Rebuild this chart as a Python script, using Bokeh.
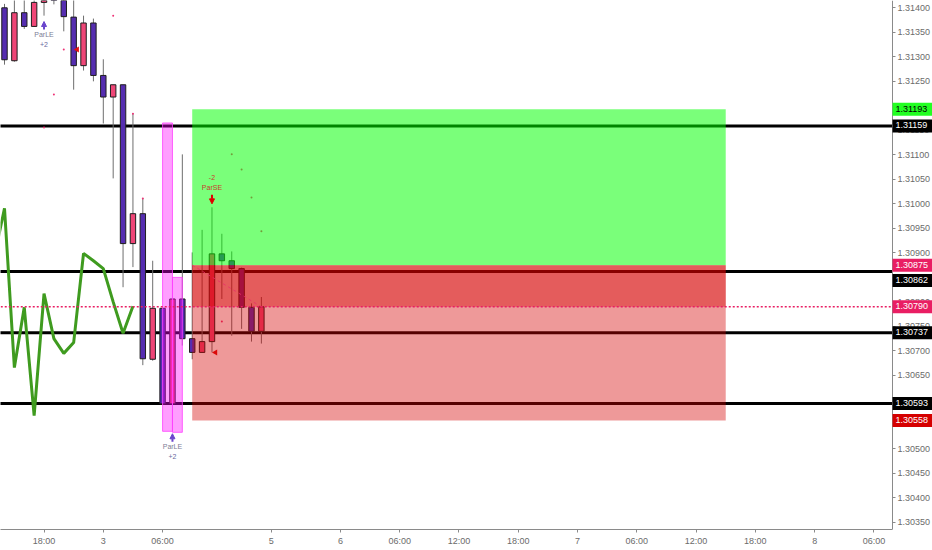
import math
from bokeh.plotting import figure
from bokeh.models import Range1d, FixedTicker, PrintfTickFormatter, Label, ColumnDataSource, NormalHead, Arrow
from bokeh.core.properties import value
from bokeh.embed import file_html
from bokeh.resources import INLINE

# ---------------- data ----------------
bar_idx = list(range(27))
opens = [1.31400, 1.31292, 1.31390, 1.31362, 1.31411, 1.31450, 1.31428, 1.31381, 1.31282,
         1.31369, 1.31262, 1.31218, 1.31243, 1.30919, 1.30980, 1.30683, 1.30787, 1.30592,
         1.30806, 1.30725, 1.30697, 1.30719, 1.30898, 1.30884, 1.30868, 1.30789, 1.30740]
highs = [1.31408, 1.31418, 1.31420, 1.31425, 1.31440, 1.31460, 1.31440, 1.31420, 1.31384,
         1.31378, 1.31295, 1.31243, 1.31243, 1.31185, 1.31012, 1.30884, 1.30787, 1.30806,
         1.31101, 1.30901, 1.30947, 1.30993, 1.30939, 1.30903, 1.30870, 1.30797, 1.30810]
lows = [1.31284, 1.31290, 1.31357, 1.31361, 1.31384, 1.31407, 1.31352, 1.31233, 1.31272,
        1.31250, 1.31164, 1.31052, 1.30830, 1.30871, 1.30671, 1.30680, 1.30590, 1.30590,
        1.30711, 1.30683, 1.30697, 1.30697, 1.30806, 1.30731, 1.30745, 1.30719, 1.30715]
closes = [1.31294, 1.31390, 1.31362, 1.31411, 1.31430, 1.31430, 1.31382, 1.31282, 1.31369,
          1.31262, 1.31218, 1.31243, 1.30919, 1.30980, 1.30684, 1.30787, 1.30592, 1.30806,
          1.30725, 1.30697, 1.30719, 1.30898, 1.30884, 1.30868, 1.30789, 1.30740, 1.30790]

ind_idx = [-1, 0, 1, 2, 3, 4, 5, 6, 7, 8, 9, 10, 11, 12, 13]
ind_vals = [1.30895, 1.30991, 1.30666, 1.30789, 1.30568, 1.30817, 1.30725, 1.30695, 1.30717,
            1.30899, 1.30884, 1.30868, 1.30800, 1.30736, 1.30791]

sar_idx = [4, 5, 6, 11, 13, 14, 22, 23, 24, 25, 26]
sar_vals = [1.31156, 1.31223, 1.31315, 1.31384, 1.31184, 1.31011, 1.30760, 1.31101, 1.31070,
            1.31013, 1.30944]

levels = [1.31159, 1.30862, 1.30737, 1.30593]

pos_start, pos_end = 19, 73
entry_price = 1.30875
target_price = 1.31193
stop_price = 1.30558
last_price = 1.30790

hl_left = [16, 17]
hl_right = [17, 18]
hl_top = [1.31165, 1.30850]
hl_bottom = [1.30536, 1.30534]

sig_idx = [4, 17, 21]
sig_price = [1.31372, 1.30531, 1.31000]
sig_name = ["ParLE", "ParLE", "ParSE"]
sig_qty = ["+2", "+2", "-2"]
sig_long = [True, True, False]

entry_mark_idx = [7, 21]
entry_mark_price = [1.31315, 1.30697]

x_ticks = [4, 10, 16, 27, 34, 40, 46, 52, 58, 64, 70, 76, 82, 88]
x_labels = ["18:00", "3", "06:00", "5", "6", "06:00", "12:00", "18:00", "7", "06:00",
            "12:00", "18:00", "8", "06:00"]
y_ticks = [1.3035, 1.3040, 1.3045, 1.3050, 1.3055, 1.3060, 1.3065, 1.3070, 1.3075, 1.3080,
           1.3085, 1.3090, 1.3095, 1.3100, 1.3105, 1.3110, 1.3115, 1.3120, 1.3125, 1.3130,
           1.3135, 1.3140]

price_labels = [1.31193, 1.31159, 1.30875, 1.30862, 1.30790, 1.30737, 1.30593, 1.30558]

# ---------------- style ----------------
FONT = "Liberation Sans"
UP = "#ef4677"
DOWN = "#552db0"
FW, FH = 932, 529
X0 = -0.405
AX = 89.88                      # where the price scale sits
X1 = X0 + (AX - X0) * FW / 892.0
Y0, Y1 = 1.303357, 1.314149
PX = (Y1 - Y0) / FH

p = figure(frame_width=FW, frame_height=FH,
           x_range=Range1d(X0, X1), y_range=Range1d(Y0, Y1),
           output_backend="svg", toolbar_location=None, y_axis_location="right",
           min_border_left=0, min_border_top=0, min_border_right=0, min_border_bottom=0)
p.background_fill_color = "white"
p.border_fill_color = "white"
p.outline_line_color = None
p.xgrid.visible = False
p.ygrid.visible = False

# horizontal levels (under zones)
xl0 = -2
p.segment(x0=[xl0] * len(levels), x1=[AX] * len(levels), y0=levels, y1=levels,
          line_color="black", line_width=3)

# indicator line
p.line(ind_idx, ind_vals, line_color="#3f9b1f", line_width=3)

# candles
body_top = [max(o, c) for o, c in zip(opens, closes)]
body_bot = [min(o, c) for o, c in zip(opens, closes)]
cols = [UP if c >= o else DOWN for o, c in zip(opens, closes)]
src = ColumnDataSource(dict(x=bar_idx, hi=highs, lo=lows, top=body_top, bot=body_bot, col=cols))
p.segment(x0="x", x1="x", y0="lo", y1="hi", source=src, line_color="#6e6e6e", line_width=1)
p.vbar(x="x", width=0.55, top="top", bottom="bot", fill_color="col", line_color="#1e1e1e",
       line_width=1, source=src)

# SAR dots
p.scatter(sar_idx, sar_vals, marker="circle", size=2, fill_color="#ee3377", line_color=None)

# entry markers (left-pointing)
p.scatter([i + 0.35 for i in entry_mark_idx], entry_mark_price, marker="triangle", angle=math.pi / 2,
          size=6, fill_color="#e01010", line_color=None)

# position zones (over everything)
p.quad(left=[pos_start], right=[pos_end], top=[target_price], bottom=[entry_price],
       fill_color="#00ff00", fill_alpha=0.52, line_color=None)
p.quad(left=[pos_start], right=[pos_end], top=[entry_price], bottom=[stop_price],
       fill_color="#d50000", fill_alpha=0.40, line_color=None)
p.quad(left=[pos_start], right=[pos_end], top=[entry_price], bottom=[last_price],
       fill_color="#d50000", fill_alpha=0.40, line_color=None)

# highlight boxes
p.quad(left=hl_left, right=hl_right, top=hl_top, bottom=hl_bottom,
       fill_color="#ff00ff", fill_alpha=0.38, line_color="#ff40ff", line_alpha=0.8, line_width=1)

# current price line
p.segment(x0=[xl0], x1=[AX], y0=[last_price], y1=[last_price], line_color="#e91e63",
          line_width=1.5, line_dash="2 2")
# entry -> current dashed diagonal
p.segment(x0=[pos_start], x1=[bar_idx[-1]], y0=[entry_price], y1=[last_price],
          line_color="#e8306a", line_width=1, line_dash="3 3", line_alpha=0.8)

# signals
for i, pr, nm, q, lg in zip(sig_idx, sig_price, sig_name, sig_qty, sig_long):
    if lg:
        col = "#6a45cc"
        p.add_layout(Arrow(end=NormalHead(size=5, fill_color=col, line_color=col),
                           x_start=i, y_start=pr - 8 * PX, x_end=i, y_end=pr,
                           line_color=col, line_width=2))
        p.text([i], [pr - 12.5 * PX], text=[nm], text_font=value(FONT), text_font_size="7px",
               text_color="#7d7d95", text_align="center", text_baseline="middle")
        p.text([i], [pr - 22.5 * PX], text=[q], text_font=value(FONT), text_font_size="7px",
               text_color="#6a6aa0", text_align="center", text_baseline="middle")
    else:
        col = "#e00000"
        p.add_layout(Arrow(end=NormalHead(size=5, fill_color=col, line_color=col),
                           x_start=i, y_start=pr + 9 * PX, x_end=i, y_end=pr,
                           line_color=col, line_width=2))
        p.text([i], [pr + 16.5 * PX], text=[nm], text_font=value(FONT), text_font_size="7px",
               text_color="#c83c2c", text_align="center", text_baseline="middle")
        p.text([i], [pr + 26 * PX], text=[q], text_font=value(FONT), text_font_size="7px",
               text_color="#c83c2c", text_align="center", text_baseline="middle")

# axes
xa = p.xaxis[0]
xa.bounds = (X0, AX)
xa.ticker = FixedTicker(ticks=x_ticks)
xa.major_label_overrides = {t: l for t, l in zip(x_ticks, x_labels)}
xa.minor_tick_line_color = None
xa.major_tick_in = 0
xa.major_tick_out = 3
xa.major_label_standoff = 3
xa.axis_line_color = "#8a8a8a"
xa.major_tick_line_color = "#8a8a8a"
xa.major_label_text_font = FONT
xa.major_label_text_font_size = "9px"
xa.major_label_text_color = "#6b6b6b"

ya = p.yaxis[0]
ya.fixed_location = AX
ya.ticker = FixedTicker(ticks=y_ticks)
ya.formatter = PrintfTickFormatter(format="%.5f")
ya.minor_tick_line_color = None
ya.major_tick_in = 0
ya.major_tick_out = 3
ya.major_label_standoff = 2
ya.axis_line_color = "#8a8a8a"
ya.major_tick_line_color = "#8a8a8a"
ya.major_label_text_font = FONT
ya.major_label_text_font_size = "9px"
ya.major_label_text_color = "#6b6b6b"

# price labels on the axis
lab_bg = ["#22ff22", "#000000", "#e91e63", "#000000", "#e91e63", "#000000", "#000000", "#d50000"]
lab_fg = ["#000000", "#ffffff", "#ffffff", "#ffffff", "#ffffff", "#ffffff", "#ffffff", "#ffffff"]
lab_dy = [0, 0, 0, -9, 0, 0, 0, 0]
for pr, bg, fg, dy in zip(price_labels, lab_bg, lab_fg, lab_dy):
    p.add_layout(Label(x=AX, y=pr, text=f"{pr:.5f}", text_font=FONT, text_font_size="9px",
                       text_color=fg, background_fill_color=bg, text_baseline="middle",
                       text_align="left", x_offset=0, y_offset=dy, padding=(3, 5, 3, 4)))

html = file_html(p, INLINE)
html = html.replace("<head>", "<head><style>html,body{margin:0 !important;padding:0 !important;}</style>", 1)
open("out.html", "w").write(html)
